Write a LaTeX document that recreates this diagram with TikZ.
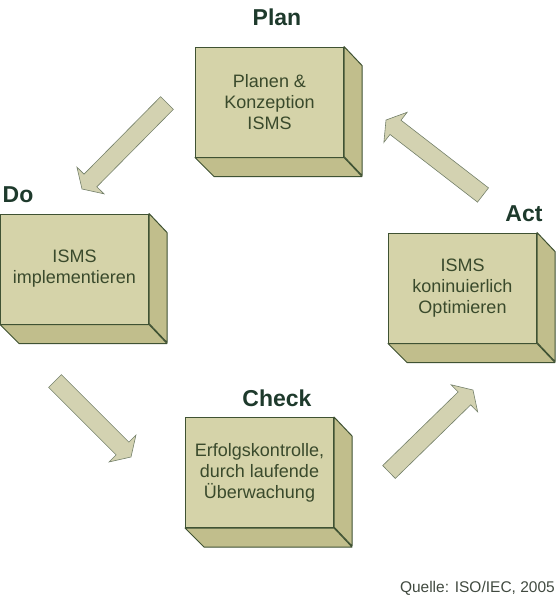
\documentclass[tikz,border=0pt]{standalone}
\usepackage{fontspec}
\setmainfont{Liberation Sans}
\usetikzlibrary{calc}
\definecolor{frontc}{HTML}{D5D3A9}
\definecolor{sidec}{HTML}{C1BE8C}
\definecolor{edgec}{HTML}{3F5233}
\definecolor{txtc}{HTML}{3A4A2C}
\definecolor{lblc}{HTML}{1E3A2C}
\definecolor{arrf}{HTML}{D3D2B1}
\definecolor{arrd}{HTML}{74806A}
\definecolor{srcc}{HTML}{414A40}
\newcommand\blockarrow[2]{%
  \coordinate (#1-n) at ($(#2)!12pt!(#1)$);
  \draw[barrow] ($(#1)!9pt!90:(#2)$) -- ($(#1-n)!9pt!90:(#2)$) -- ($(#1-n)!19pt!90:(#2)$) -- (#2) -- ($(#1-n)!19pt!-90:(#2)$) -- ($(#1-n)!9pt!-90:(#2)$) -- ($(#1)!9pt!-90:(#2)$) -- cycle;}
\newcommand\boxfaces[1]{%
  \draw[face] (#1.north east) -- ++(18,19) -- ++(0,110) -- ++(-18,-19) -- cycle;
  \draw[face] (#1.south west) -- (#1.south east) -- ++(18,19) -- ++(-148,0) -- cycle;}
\begin{document}
\begin{tikzpicture}[x=1pt,y=-1pt,
  box/.style={draw=edgec, line width=1pt, fill=frontc, minimum width=148pt, minimum height=110pt, inner sep=0pt, align=center, text=txtc, font=\fontsize{18}{21}\selectfont},
  face/.style={draw=edgec, line width=1pt, fill=sidec, line join=round},
  lab/.style={text=lblc, font=\fontsize{23}{26}\selectfont\bfseries},
  barrow/.style={draw=arrd, line width=0.6pt, fill=arrf, line join=miter}]
\useasboundingbox (0,0) rectangle (556,600);

% boxes
\node[box] (plan) at (269.5,102) {Planen \&\\Konzeption\\ISMS};
\boxfaces{plan}
\node[box] (do) at (74.5,269) {ISMS\\implementieren};
\boxfaces{do}
\node[box] (act) at (462.5,288) {ISMS\\koninuierlich\\Optimieren};
\boxfaces{act}
\node[box] (check) at (259.5,472.5) {Erfolgskontrolle,\\durch laufende\\Überwachung};
\boxfaces{check}

% labels
\node[lab] (lplan) at (277,17) {Plan};
\node[lab] (ldo) at (18,195) {Do};
\node[lab] (lact) at (524,214) {Act};
\node[lab] (lcheck) at (277,398) {Check};

% arrows
\coordinate (a1t) at (167,103); \coordinate (a1h) at (82,189);
\coordinate (a2t) at (55,381);  \coordinate (a2h) at (131,457);
\coordinate (a3t) at (389,472); \coordinate (a3h) at (473,390);
\coordinate (a4t) at (483,195); \coordinate (a4h) at (386,120);
\blockarrow{a1t}{a1h}
\blockarrow{a2t}{a2h}
\blockarrow{a3t}{a3h}
\blockarrow{a4t}{a4h}

% source
\node[text=srcc, font=\fontsize{15.5}{18}\selectfont, anchor=east, inner sep=0pt] (src) at (555,588) {Quelle: ISO/IEC, 2005};
\end{tikzpicture}
\end{document}
